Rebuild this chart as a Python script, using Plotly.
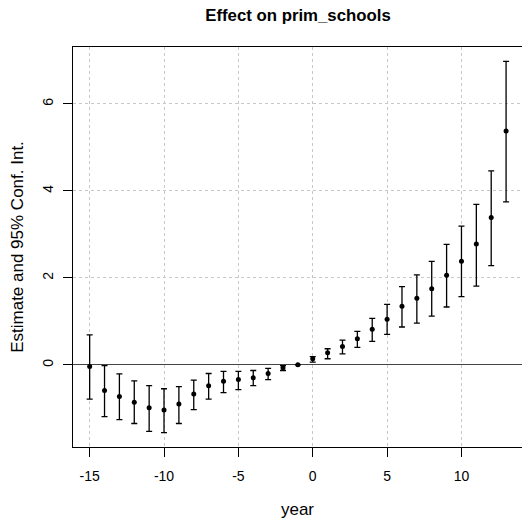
import plotly.graph_objects as go

years = list(range(-15, 14))
estimate = [-0.04, -0.59, -0.73, -0.86, -0.99, -1.04, -0.90, -0.67, -0.48, -0.38, -0.34, -0.30, -0.20, -0.07, 0.00,
            0.14, 0.28, 0.42, 0.60, 0.82, 1.05, 1.35, 1.53, 1.75, 2.06, 2.38, 2.78, 3.39, 5.38]
ci_upper = [0.69, -0.02, -0.21, -0.37, -0.48, -0.55, -0.50, -0.35, -0.20, -0.15, -0.15, -0.13, -0.08, -0.02, 0.00,
            0.19, 0.37, 0.57, 0.77, 1.07, 1.39, 1.80, 2.07, 2.38, 2.77, 3.19, 3.69, 4.46, 6.98]
ci_lower = [-0.79, -1.19, -1.26, -1.35, -1.53, -1.56, -1.35, -1.03, -0.79, -0.64, -0.57, -0.48, -0.34, -0.13, 0.00,
            0.06, 0.14, 0.25, 0.40, 0.54, 0.70, 0.87, 0.96, 1.12, 1.33, 1.57, 1.81, 2.28, 3.75]
x_ticks = [-15, -10, -5, 0, 5, 10]
x_ticktext = ["-15", "-10", "-5", "0", "5", "10"]
y_ticks = [0, 2, 4, 6]
y_ticktext = ["0", "2", "4", "6"]

err_plus = [u - e for u, e in zip(ci_upper, estimate)]
err_minus = [e - l for e, l in zip(estimate, ci_lower)]

fig = go.Figure()
fig.add_trace(go.Scatter(
    x=years, y=estimate, mode="markers",
    marker=dict(color="black", size=5),
    error_y=dict(type="data", symmetric=False, array=err_plus, arrayminus=err_minus,
                 color="black", thickness=1.3, width=3),
    showlegend=False,
    hoverinfo="skip",
))

W, H = 522, 521
font = "Liberation Sans, Arial, sans-serif"
fig.update_layout(
    width=W, height=H,
    margin=dict(l=73, r=0, t=47, b=74, autoexpand=False),
    plot_bgcolor="white", paper_bgcolor="white",
    font=dict(family=font, size=14, color="black"),
    title=dict(text="<b>Effect on prim_schools</b>", x=298 / W, xref="container", xanchor="center",
               y=1 - 15 / H, yref="container", yanchor="middle", font=dict(size=16.8, family=font)),
    xaxis=dict(range=[-16.12, 14.07], tickvals=x_ticks, ticktext=x_ticktext,
               ticks="outside", ticklen=9, tickcolor="black", ticklabelstandoff=7,
               automargin=False,
               showline=True, linecolor="black", linewidth=1, mirror=True,
               showgrid=True, gridcolor="#c8c8c8", griddash="dot", gridwidth=1, zeroline=False,
               title=dict(text="year", standoff=20)),
    yaxis=dict(range=[-1.89, 7.31], tickvals=y_ticks, ticktext=y_ticktext,
               ticks="outside", ticklen=9, tickcolor="black",
               tickangle=-90, automargin=False, ticklabelstandoff=4,
               showline=True, linecolor="black", linewidth=1, mirror=True,
               showgrid=True, gridcolor="#c8c8c8", griddash="dot", gridwidth=1,
               zeroline=True, zerolinecolor="#444444", zerolinewidth=1.3,
               title=dict(text="Estimate and 95% Conf. Int.", standoff=12)),
)

fig.write_html("out.html", config={"displayModeBar": False},
               post_script="document.body.style.margin='0px';")
